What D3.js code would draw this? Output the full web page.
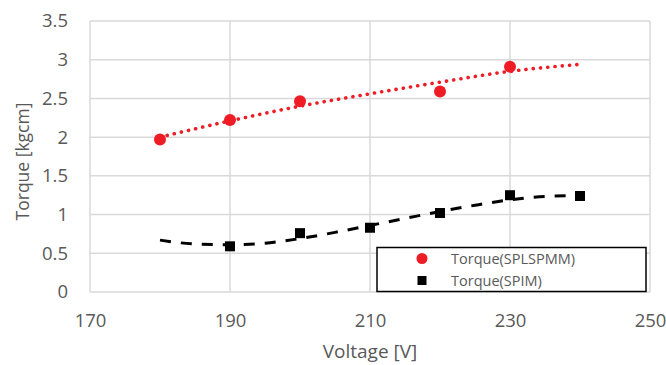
<!DOCTYPE html>
<html>
<head>
<meta charset="utf-8">
<script src="https://cdn.jsdelivr.net/npm/d3@7/dist/d3.min.js"></script>
<style>
  html, body { margin: 0; padding: 0; background: #fff; }
  svg { display: block; font-family: "Open Sans", "Noto Sans", sans-serif; }
</style>
</head>
<body>
<svg id="chart" width="666" height="365"></svg>
<script>
// Measured torque, SPLSPMM motor
const splspmmVoltage = [180, 190, 200, 220, 230];
const splspmmTorque  = [1.97, 2.22, 2.465, 2.59, 2.91];

// Measured torque, SPIM motor
const spimVoltage = [190, 200, 210, 220, 230, 240];
const spimTorque  = [0.59, 0.76, 0.83, 1.02, 1.25, 1.24];

// Trendlines (sampled)
const splspmmTrendVoltage = [180, 190, 200, 210, 220, 230, 240];
const splspmmTrendTorque  = [2.00, 2.21, 2.40, 2.56, 2.71, 2.85, 2.94];
const spimTrendVoltage = [180, 185, 190, 195, 200, 205, 210, 215, 220, 225, 230, 235, 240];
const spimTrendTorque  = [0.67, 0.62, 0.61, 0.63, 0.69, 0.77, 0.86, 0.95, 1.04, 1.12, 1.19, 1.235, 1.245];

// Axis ticks
const xTicks = [170, 190, 210, 230, 250];
const yTicks = [0, 0.5, 1, 1.5, 2, 2.5, 3, 3.5];

const seriesNames = ["Torque(SPLSPMM)", "Torque(SPIM)"];

const svg = d3.select("#chart");
const plot = { left: 90, right: 650, top: 21, bottom: 292 };
const textColor = "#595959";
const gridColor = "#d9d9d9";

const x = d3.scaleLinear().domain([170, 250]).range([plot.left, plot.right]);
const y = d3.scaleLinear().domain([0, 3.5]).range([plot.bottom, plot.top]);

// Gridlines
const grid = svg.append("g");
grid.selectAll("line.h").data(yTicks).join("line")
  .attr("x1", plot.left).attr("x2", plot.right)
  .attr("y1", d => y(d)).attr("y2", d => y(d))
  .attr("stroke", gridColor).attr("stroke-width", 1.5);
grid.selectAll("line.v").data(xTicks).join("line")
  .attr("y1", plot.top).attr("y2", plot.bottom)
  .attr("x1", d => x(d)).attr("x2", d => x(d))
  .attr("stroke", gridColor).attr("stroke-width", 1.5);

// Axes (labels only)
const xAxis = svg.append("g")
  .attr("transform", `translate(0,${plot.bottom})`)
  .call(d3.axisBottom(x).tickValues(xTicks).tickSize(0).tickPadding(22).tickFormat(d3.format("d")));
const yAxis = svg.append("g")
  .attr("transform", `translate(${plot.left},0)`)
  .call(d3.axisLeft(y).tickValues(yTicks).tickSize(0).tickPadding(22).tickFormat(d => String(d)));
[xAxis, yAxis].forEach(a => {
  a.select(".domain").remove();
  a.selectAll("text").attr("fill", textColor).style("font-size", "18.5px")
    .style("font-family", "'Open Sans', sans-serif");
});

// Axis titles
svg.append("text")
  .attr("x", (plot.left + plot.right) / 2).attr("y", 358)
  .attr("text-anchor", "middle").attr("fill", textColor)
  .style("font-size", "19px").text("Voltage [V]");
svg.append("text")
  .attr("transform", `translate(29,${(plot.top + plot.bottom) / 2 + 5}) rotate(-90)`)
  .attr("text-anchor", "middle").attr("fill", textColor)
  .style("font-size", "17.5px").text("Torque [kgcm]");

// Trendlines
const line = d3.line().x(d => x(d[0])).y(d => y(d[1])).curve(d3.curveMonotoneX);
svg.append("path")
  .datum(d3.zip(splspmmTrendVoltage, splspmmTrendTorque))
  .attr("d", line).attr("fill", "none")
  .attr("stroke", "#ee1c25").attr("stroke-width", 3.6)
  .attr("stroke-linecap", "round").attr("stroke-dasharray", "0.1 7.2");
svg.append("path")
  .datum(d3.zip(spimTrendVoltage, spimTrendTorque))
  .attr("d", line).attr("fill", "none")
  .attr("stroke", "#000").attr("stroke-width", 3)
  .attr("stroke-dasharray", "11 10");

// Markers
svg.append("g").selectAll("circle")
  .data(d3.zip(splspmmVoltage, splspmmTorque)).join("circle")
  .attr("cx", d => x(d[0])).attr("cy", d => y(d[1])).attr("r", 6)
  .attr("fill", "#ee1c25");
const sq = 10;
svg.append("g").selectAll("rect")
  .data(d3.zip(spimVoltage, spimTorque)).join("rect")
  .attr("x", d => x(d[0]) - sq / 2).attr("y", d => y(d[1]) - sq / 2)
  .attr("width", sq).attr("height", sq).attr("fill", "#000");

// Legend
const legend = svg.append("g");
legend.append("rect")
  .attr("x", 377).attr("y", 247.5).attr("width", 269).attr("height", 44)
  .attr("fill", "#fff").attr("stroke", "#000").attr("stroke-width", 1.5);
legend.append("circle").attr("cx", 422).attr("cy", 258.5).attr("r", 5.5).attr("fill", "#ee1c25");
legend.append("rect").attr("x", 417.5).attr("y", 276).attr("width", 9).attr("height", 9).attr("fill", "#000");
legend.selectAll("text").data(seriesNames).join("text")
  .attr("x", 451).attr("y", (d, i) => 258.5 + i * 22)
  .attr("dy", "0.35em").attr("fill", textColor)
  .style("font-size", "14.5px").text(d => d);
</script>
</body>
</html>
